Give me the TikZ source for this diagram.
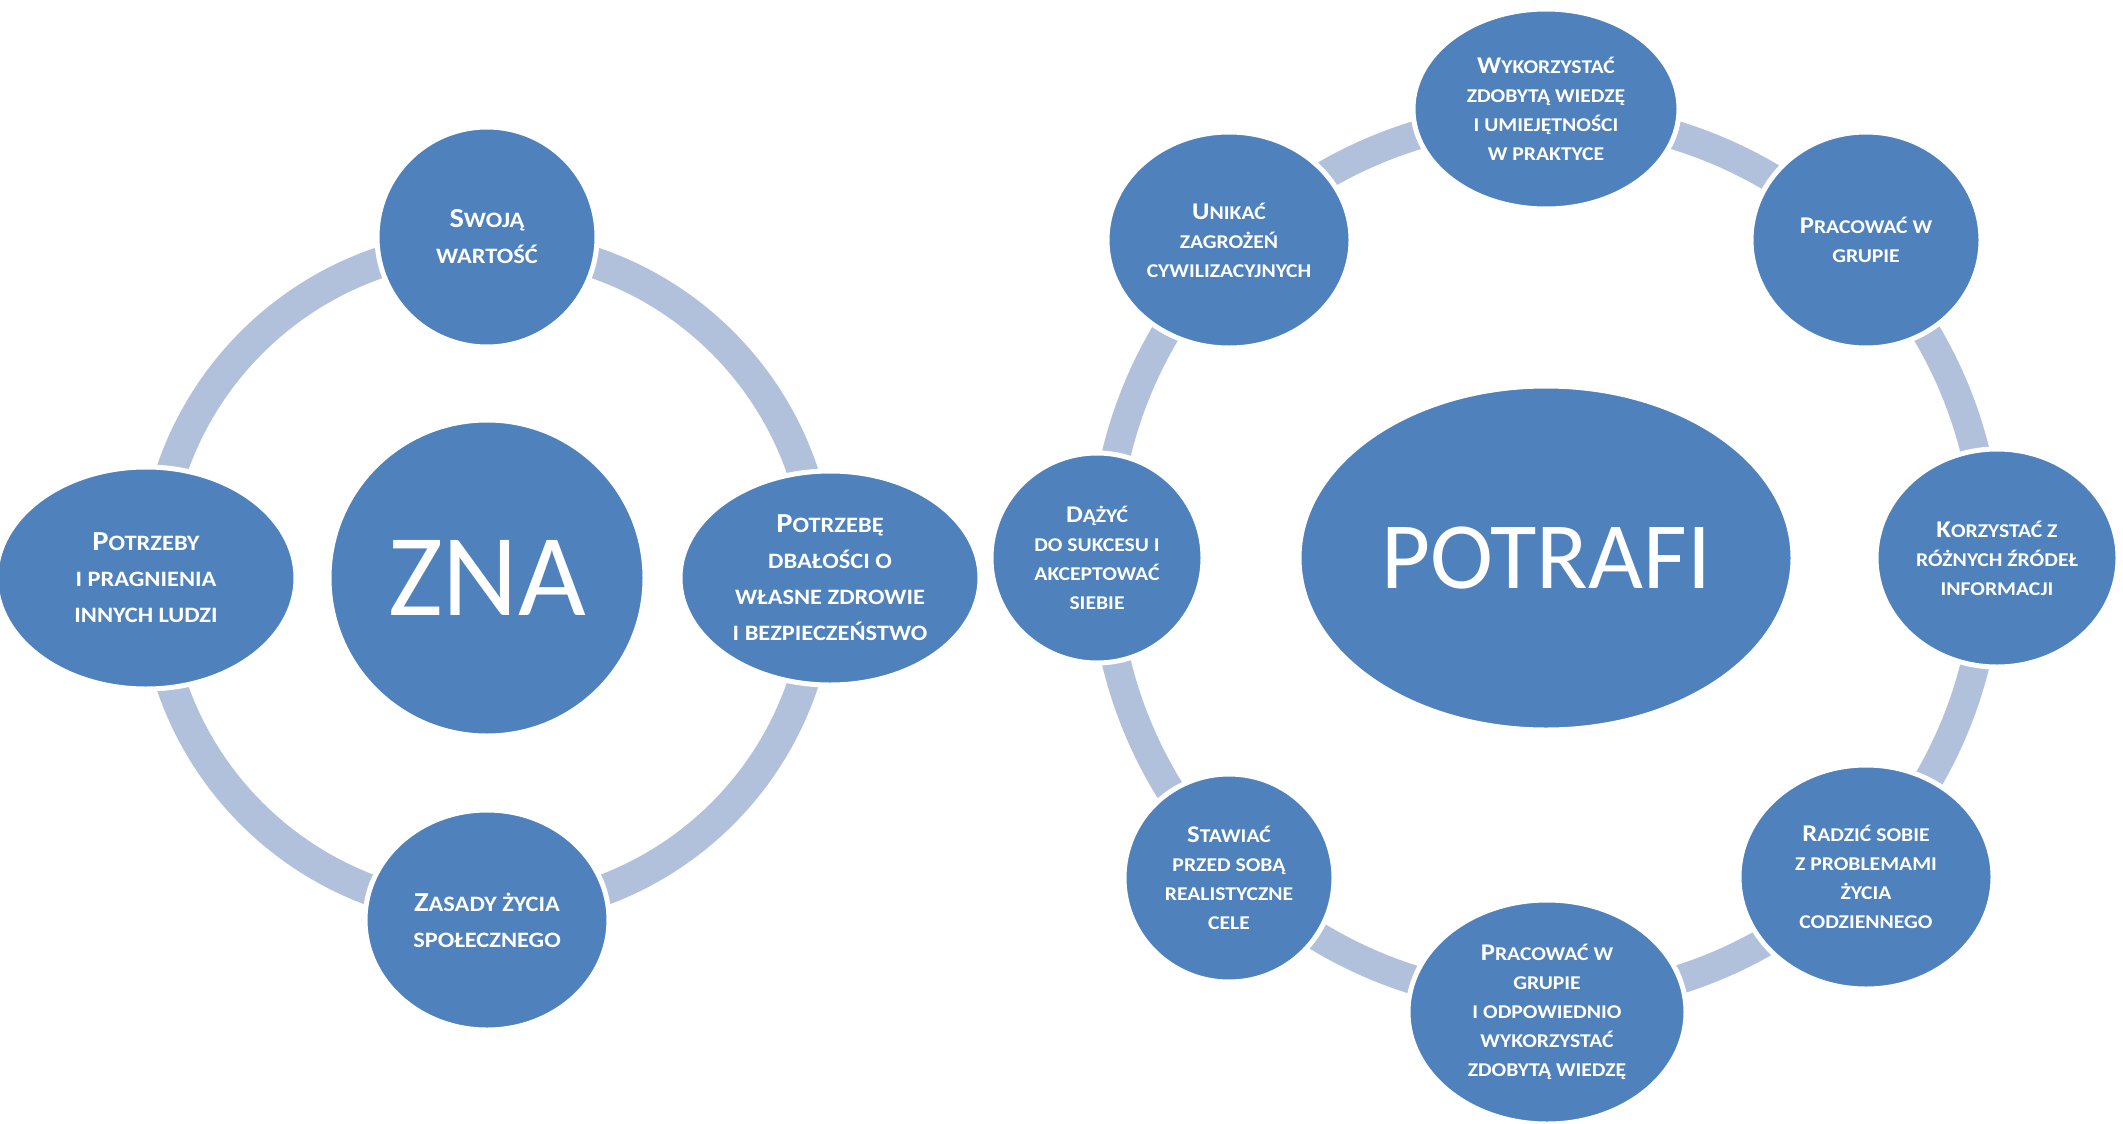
\documentclass[tikz,border=0pt]{standalone}
\usepackage{fontspec}
\setmainfont{Carlito}
\newfontfamily\nodefont{Carlito}[FakeStretch=1.11]
\usetikzlibrary{shapes.geometric}
\definecolor{nodeblue}{HTML}{4F81BD}
\definecolor{ringblue}{HTML}{B2C1DB}
\newcommand{\BigL}[1]{{\fontsize{27.5}{36}\selectfont #1}}
\newcommand{\BigR}[1]{{\fontsize{24}{29}\selectfont #1}}
\begin{document}
\begin{tikzpicture}[x=1pt,y=-1pt,
  blob/.style={ellipse, fill=nodeblue, draw=white, line width=5pt, inner sep=0pt, text=white, align=center},
  lt/.style={blob, font=\nodefont\bfseries\fontsize{22}{36}\selectfont},
  rt/.style={blob, font=\nodefont\bfseries\fontsize{19.5}{29}\selectfont},
  ring/.style={draw=ringblue, line width=31pt},
  ringr/.style={draw=ringblue, line width=29pt},
  big/.style={blob, font=\fontsize{117}{130}\selectfont},
]
\useasboundingbox (0,0) rectangle (2123,1124);
% rings
\coordinate (lc) at (487,578);
\coordinate (rc) at (1546,558);
\draw[ring] (lc) circle[radius=333];
\draw[ringr] (rc) circle[radius=442];
% left group
\node[big, minimum width=316, minimum height=316] (zna) at (lc) {ZNA};
\node[lt, minimum width=220, minimum height=220] (swoja) at (487,237) {\BigL{S}WOJĄ\\WARTOŚĆ};
\node[lt, minimum width=300, minimum height=222] (potrzeby) at (146,578) {\BigL{P}OTRZEBY\\I PRAGNIENIA\\INNYCH LUDZI};
\node[lt, minimum width=300, minimum height=214] (potrzebe) at (830,578) {\BigL{P}OTRZEBĘ\\DBAŁOŚCI O\\WŁASNE ZDROWIE\\I BEZPIECZEŃSTWO};
\node[lt, minimum width=244, minimum height=220] (zasady) at (487,920) {\BigL{Z}ASADY ŻYCIA\\SPOŁECZNEGO};
% right group
\node[big, font=\fontsize{95}{110}\selectfont, minimum width=494, minimum height=344] (potrafi) at (rc) {POTRAFI};
\node[rt, minimum width=266, minimum height=200] (wyk) at (1546,109) {\BigR{W}YKORZYSTAĆ\\ZDOBYTĄ WIEDZĘ\\I UMIEJĘTNOŚCI\\W PRAKTYCE};
\node[rt, minimum width=230, minimum height=216] (prac1) at (1866,240) {\BigR{P}RACOWAĆ W\\GRUPIE};
\node[rt, minimum width=242, minimum height=218] (korz) at (1997,558) {\BigR{K}ORZYSTAĆ Z\\RÓŻNYCH ŹRÓDEŁ\\INFORMACJI};
\node[rt, minimum width=254, minimum height=224] (radz) at (1866,877) {\BigR{R}ADZIĆ SOBIE\\Z PROBLEMAMI\\ŻYCIA\\CODZIENNEGO};
\node[rt, minimum width=278, minimum height=224] (prac2) at (1547,1012) {\BigR{P}RACOWAĆ W\\GRUPIE\\I ODPOWIEDNIO\\WYKORZYSTAĆ\\ZDOBYTĄ WIEDZĘ};
\node[rt, minimum width=210, minimum height=208] (staw) at (1229,878) {\BigR{S}TAWIAĆ\\PRZED SOBĄ\\REALISTYCZNE\\CELE};
\node[rt, minimum width=212, minimum height=210] (dazyc) at (1097,558) {\BigR{D}ĄŻYĆ\\DO SUKCESU I\\AKCEPTOWAĆ\\SIEBIE};
\node[rt, minimum width=244, minimum height=216] (unik) at (1229,240) {\BigR{U}NIKAĆ\\ZAGROŻEŃ\\CYWILIZACYJNYCH};
\end{tikzpicture}
\end{document}
